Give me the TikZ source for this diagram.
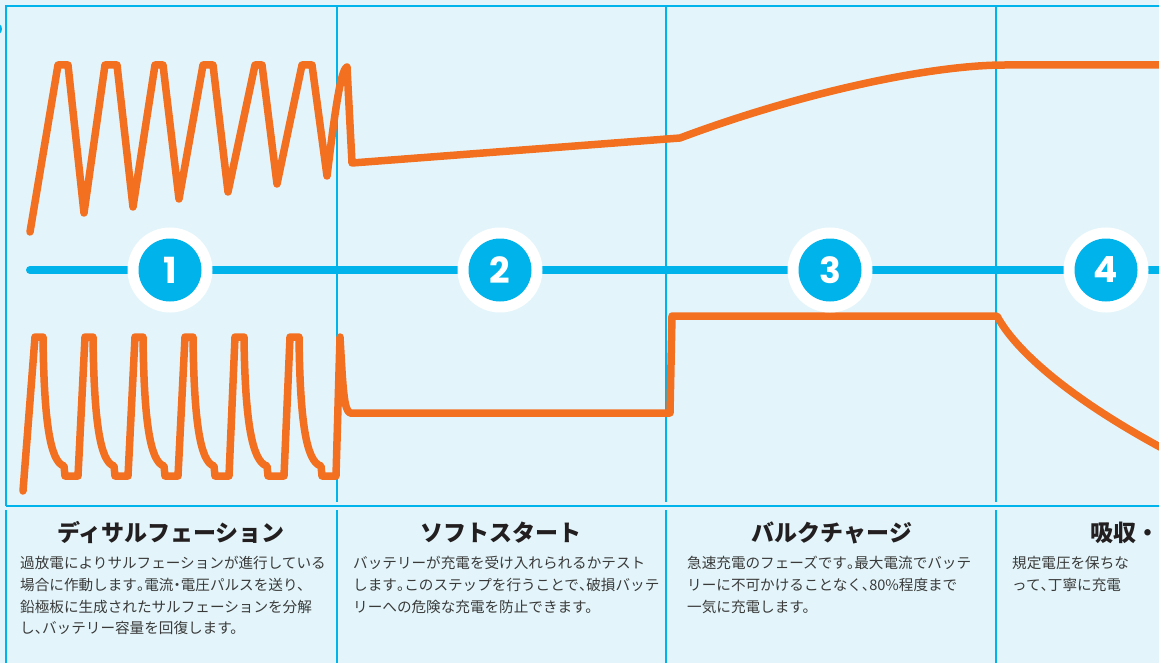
\documentclass[tikz,border=0pt]{standalone}
\usepackage{fontspec}
\newfontfamily\jp{Noto Sans CJK JP}
\newfontfamily\numfont{Poppins}
\newcommand\hmaru{\hbox to 0.5em{。\hss}}
\newcommand\hten{\hbox to 0.5em{、\hss}}
\newcommand\hnaka{\hbox to 0.5em{\hss ・\hss}}
\definecolor{bg}{HTML}{E3F5FA}
\definecolor{cy}{HTML}{00B4EB}
\definecolor{org}{HTML}{F37021}
\definecolor{ttl}{HTML}{231F20}
\definecolor{bdy}{HTML}{3A3A3A}
\tikzset{
  frame/.style={draw=cy, line width=2.5pt},
  divider/.style={draw=cy, line width=2.3pt},
  wave/.style={draw=org, line width=7.5pt, line join=round, line cap=round},
  axisline/.style={draw=cy, line width=8pt, line cap=round},
  ring/.style={circle, fill=white, minimum size=85pt, inner sep=0pt},
  badge/.style={circle, fill=cy, minimum size=63pt, inner sep=0pt, text=white, font={\numfont\bfseries\fontsize{36}{36}\selectfont}},
  title/.style={anchor=base, inner sep=0pt, text=ttl, font={\jp\bfseries\fontsize{23}{23}\selectfont}},
  body/.style={anchor=base west, inner sep=0pt, text=bdy, font={\jp\fontsize{14.6}{14.6}\selectfont}}
}
\begin{document}
\begin{tikzpicture}[x=1pt,y=-1pt]
\useasboundingbox (0,0) rectangle (1159,663);
\clip (0,0) rectangle (1159,663);
\fill[bg] (0,0) rectangle (1159,663);
\fill[cy] (-4,29) circle (6);
% upper panel
\draw[frame] (6,506) -- (6,6) -- (1175,6);
\draw[frame] (6,506) -- (1175,506);
\foreach \x in {337,666,996} {
  \draw[divider] (\x,6) -- (\x,502);
  \draw[divider] (\x,510) -- (\x,670);
}
\draw[frame] (6,510) -- (6,670);
% voltage curve
\draw[wave] (30,232) -- (58,65) -- (68,65) -- (84,213) -- (105,65) -- (117,65)
  -- (133,207) -- (155,65) -- (163,65) -- (179,199) -- (203,65) -- (213,65)
  -- (228,192) -- (255,65) -- (262,65) -- (277,184) -- (302,65) -- (312,65)
  -- (327,176) .. controls (334,120) and (340,70) .. (347,67) -- (352,163)
  -- (680,138) .. controls (800,93) and (930,65) .. (1005,65) -- (1175,65);
% current curve
\draw[wave] (23,491) -- (35,337) -- (43,337) .. controls (44,420) and (50,462) .. (64,466) -- (65,476) -- (78,476)
  -- (85,337) -- (93,337) .. controls (94,420) and (100,462) .. (114,466) -- (115,476) -- (128,476)
  -- (135,337) -- (143,337) .. controls (144,420) and (150,462) .. (164,466) -- (165,476) -- (178,476)
  -- (185,337) -- (193,337) .. controls (194,420) and (200,462) .. (214,466) -- (215,476) -- (229,476)
  -- (235,337) -- (244,337) .. controls (245,420) and (252,462) .. (267,466) -- (268,476) -- (284,476)
  -- (290,337) -- (299,337) .. controls (300,420) and (306,462) .. (321,466) -- (322,476) -- (336,476)
  -- (340,337) .. controls (343,390) and (344,410) .. (350,413) -- (670,413) -- (672,316) -- (997,316)
  .. controls (1015,350) and (1070,400) .. (1175,455);
% axis
\draw[axisline] (30,270) -- (1175,270);
% badges
\foreach \n/\x in {1/170,2/500,3/830,4/1106} {
  \node[ring] (r\n) at (\x,270) {};
  \node[badge] (b\n) at (\x,270) {\n};
}
% titles
\node[title] (t1) at (171,541) {ディサルフェーション};
\node[title] (t2) at (501,541) {ソフトスタート};
\node[title] (t3) at (832,541) {バルクチャージ};
\node[title, anchor=base west] (t4) at (1090,541) {吸収・};
% body texts
\node[body] (p11) at (20,568) {過放電によりサルフェーションが進行している};
\node[body] (p12) at (20,590) {場合に作動します\hmaru 電流\hnaka 電圧パルスを送り、};
\node[body] (p13) at (20,612) {鉛極板に生成されたサルフェーションを分解};
\node[body] (p14) at (20,633) {し\hten バッテリー容量を回復します。};
\node[body] (p21) at (353,568) {バッテリーが充電を受け入れられるかテスト};
\node[body] (p22) at (353,590) {します\hmaru このステップを行うことで\hten 破損バッテ};
\node[body] (p23) at (353,612) {リーへの危険な充電を防止できます。};
\node[body] (p31) at (687,568) {急速充電のフェーズです\hmaru 最大電流でバッテ};
\node[body] (p32) at (687,590) {リーに不可かけることなく\hten 80\%程度まで};
\node[body] (p33) at (687,612) {一気に充電します。};
\node[body] (p41) at (1012,568) {規定電圧を保ちな};
\node[body] (p42) at (1012,590) {って\hten 丁寧に充電};
\end{tikzpicture}
\end{document}
